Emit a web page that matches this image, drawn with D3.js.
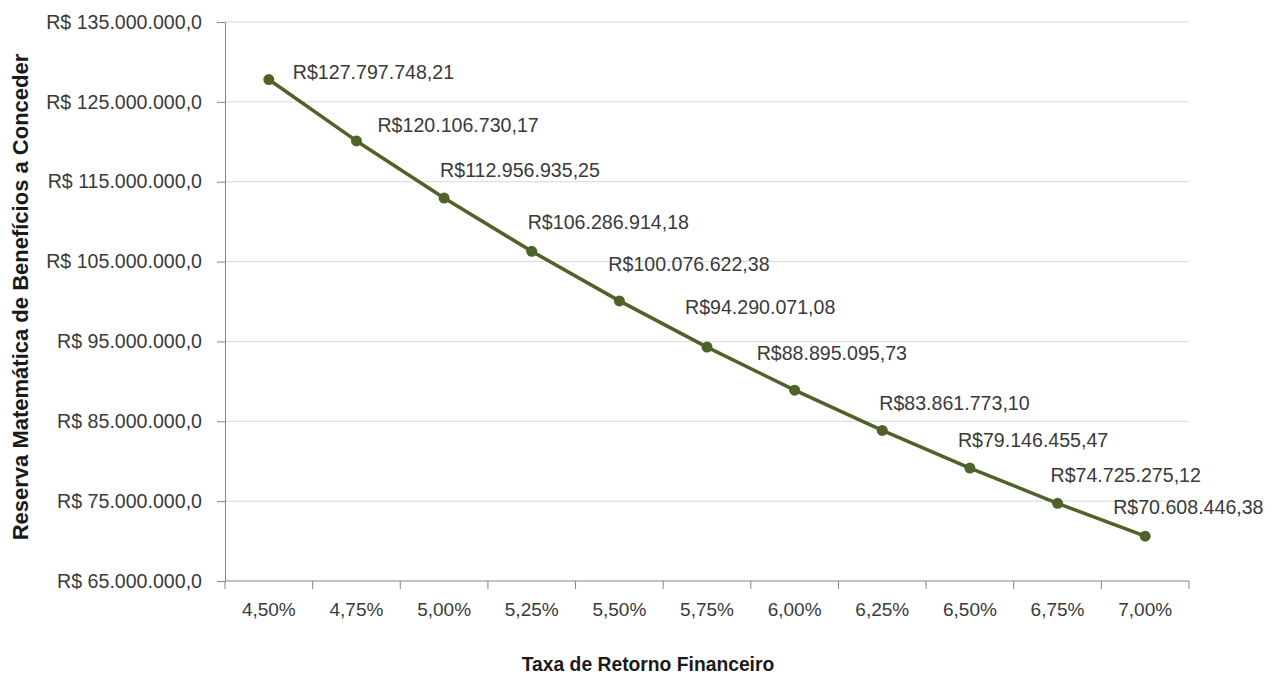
<!DOCTYPE html>
<html>
<head>
<meta charset="utf-8">
<script src="https://cdn.jsdelivr.net/npm/d3@7"></script>
<style>
  html, body { margin: 0; padding: 0; background: #fff; }
  svg { display: block; font-family: "Liberation Sans", Arial, sans-serif; }
</style>
</head>
<body>
<svg id="chart" width="1282" height="675"></svg>
<script>
// Taxa de retorno (categorias do eixo X)
const rates = ["4,50%", "4,75%", "5,00%", "5,25%", "5,50%", "5,75%", "6,00%", "6,25%", "6,50%", "6,75%", "7,00%"];
// Reserva matemática de benefícios a conceder (R$)
const reserves = [127797748.21, 120106730.17, 112956935.25, 106286914.18, 100076622.38,
                  94290071.08, 88895095.73, 83861773.10, 79146455.47, 74725275.12, 70608446.38];
// Marcas do eixo Y
const yTicks = [65e6, 75e6, 85e6, 95e6, 105e6, 115e6, 125e6, 135e6];

// Deslocamento de cada rótulo de dado em relação ao ponto (início do texto, centro vertical)
const labelOffsets = [[24, -7], [21, -16], [-4, -28], [-4, -29], [-11, -37], [-22, -40],
                      [-38, -37], [-3, -27], [-12, -28], [-7, -28], [-32, -29]];

const margin = { left: 225, right: 1189, top: 22, bottom: 581 };
const svg = d3.select("#chart");

const ptBR = d3.formatLocale({ decimal: ",", thousands: ".", grouping: [3], currency: ["R$ ", ""] });
const ptBRLabel = d3.formatLocale({ decimal: ",", thousands: ".", grouping: [3], currency: ["R$", ""] });
const fmtTick = ptBR.format("$,.1f");
const fmtLabel = ptBRLabel.format("$,.2f");

const x = d3.scaleBand().domain(rates).range([margin.left, margin.right]).padding(0);
const y = d3.scaleLinear().domain([65e6, 135e6]).range([margin.bottom, margin.top]);

const axisColor = "#868686";
const textColor = "#3a3a3a";
const fontSize = 19.6;

// Linhas de grade horizontais
svg.append("g")
  .selectAll("line")
  .data(yTicks.filter(d => d > 65e6))
  .join("line")
  .attr("x1", margin.left).attr("x2", margin.right)
  .attr("y1", d => y(d)).attr("y2", d => y(d))
  .attr("stroke", "#d9d9d9").attr("stroke-width", 1);

// Eixo Y
const yAxis = svg.append("g")
  .attr("transform", `translate(${margin.left},0)`)
  .call(d3.axisLeft(y).tickValues(yTicks).tickFormat(fmtTick).tickSize(8).tickPadding(15));
yAxis.select(".domain").attr("stroke", axisColor);
yAxis.selectAll(".tick line").attr("stroke", axisColor);
yAxis.selectAll(".tick text").attr("fill", textColor).attr("font-size", fontSize)
  .attr("font-family", "'Liberation Sans', Arial, sans-serif");

// Eixo X (rótulos no centro das categorias, marcas nas divisas)
const xAxis = svg.append("g")
  .attr("transform", `translate(0,${margin.bottom})`)
  .call(d3.axisBottom(x).tickSize(0).tickPadding(22));
xAxis.select(".domain").remove();
xAxis.selectAll(".tick text").attr("fill", textColor).attr("font-size", 19)
  .attr("font-family", "'Liberation Sans', Arial, sans-serif");
xAxis.append("line")
  .attr("x1", margin.left).attr("x2", margin.right)
  .attr("y1", 0).attr("y2", 0).attr("stroke", axisColor);
xAxis.append("g")
  .selectAll("line")
  .data(rates.map(d => x(d)).concat([margin.right]))
  .join("line")
  .attr("x1", d => d).attr("x2", d => d)
  .attr("y1", 0).attr("y2", 8)
  .attr("stroke", axisColor);

// Série
const points = rates.map((r, i) => ({ r, v: reserves[i], i }));
const cx = d => x(d.r) + x.bandwidth() / 2;

svg.append("path")
  .datum(points)
  .attr("fill", "none")
  .attr("stroke", "#4f6228")
  .attr("stroke-width", 3.5)
  .attr("stroke-linejoin", "round")
  .attr("d", d3.line().x(cx).y(d => y(d.v)));

svg.append("g")
  .selectAll("circle")
  .data(points)
  .join("circle")
  .attr("cx", cx).attr("cy", d => y(d.v))
  .attr("r", 5.5)
  .attr("fill", "#4f6228");

// Rótulos de dados
svg.append("g")
  .selectAll("text")
  .data(points)
  .join("text")
  .attr("x", d => cx(d) + labelOffsets[d.i][0])
  .attr("y", d => y(d.v) + labelOffsets[d.i][1])
  .attr("dy", "0.35em")
  .attr("fill", textColor)
  .attr("font-size", fontSize)
  .text(d => fmtLabel(d.v));

// Títulos dos eixos
svg.append("text")
  .attr("x", 648).attr("y", 664).attr("dy", "0.35em")
  .attr("text-anchor", "middle")
  .attr("font-weight", "bold").attr("font-size", 19.3)
  .attr("fill", "#1a1a1a")
  .text("Taxa de Retorno Financeiro");

svg.append("text")
  .attr("transform", "translate(20,297) rotate(-90)")
  .attr("dy", "0.35em")
  .attr("text-anchor", "middle")
  .attr("font-weight", "bold").attr("font-size", 22)
  .attr("fill", "#1a1a1a")
  .text("Reserva Matemática de Benefícios a Conceder");
</script>
</body>
</html>
